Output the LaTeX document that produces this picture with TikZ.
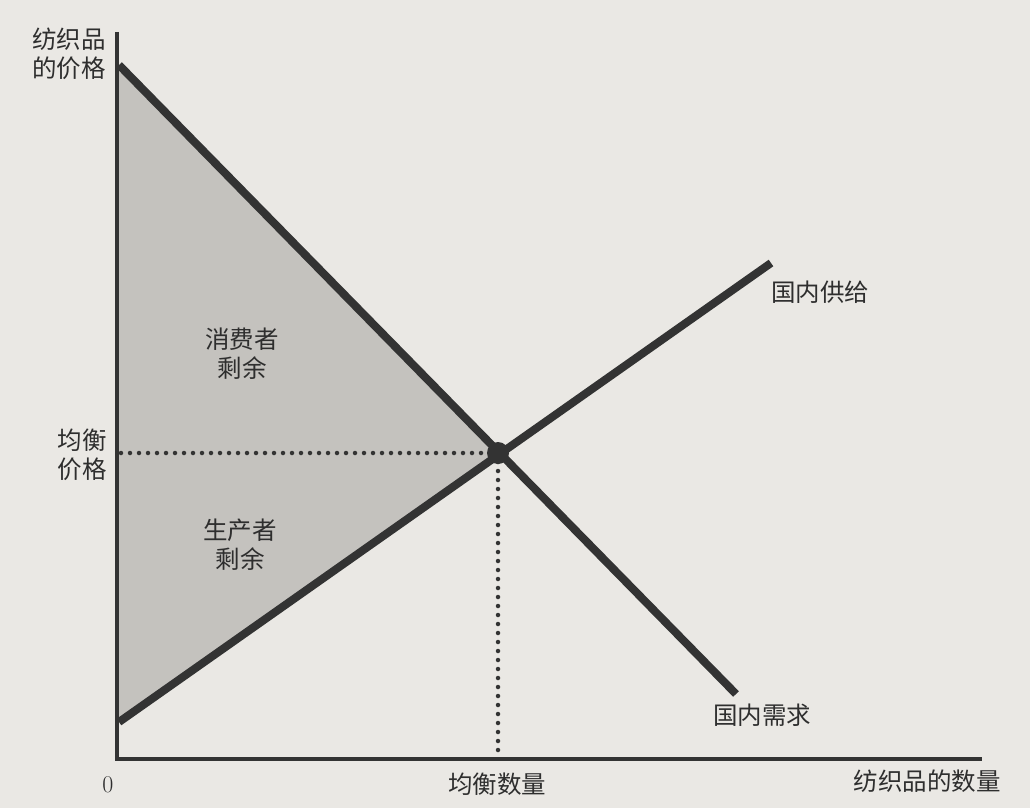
\documentclass[tikz,border=0pt]{standalone}
\usepackage{fontspec}
\newfontfamily\cjk{Noto Sans CJK SC}
\begin{document}
\begin{tikzpicture}[x=1pt,y=-1pt,
  lbl/.style={font=\cjk\fontsize{24.5}{29}\selectfont, text=black!82, align=center, inner sep=0pt},
  axisline/.style={line width=4pt, draw=black!80},
  curve/.style={line width=8pt, draw=black!80},
  guide/.style={line width=4.5pt, draw=black!80, dash pattern=on 0pt off 9pt, line cap=round}]
\definecolor{paper}{RGB}{234,232,228}
\definecolor{surplusgray}{RGB}{196,194,190}
\fill[paper] (0,0) rectangle (1030,808);
\useasboundingbox (0,0) rectangle (1030,808);
% key points
\coordinate (O) at (117,759);
\coordinate (Ytop) at (117,32);
\coordinate (Xend) at (982,759);
\coordinate (Dstart) at (119,65);
\coordinate (Dend) at (736,694);
\coordinate (Sstart) at (119,722);
\coordinate (Send) at (771,263);
\coordinate (E) at (498,453);
\coordinate (Py) at (121,453);
\coordinate (Qx) at (498,755);
% shaded surplus
\fill[surplusgray] (Dstart) -- (E) -- (Sstart) -- cycle;
% guides
\draw[guide] (Py) -- (E);
\draw[guide] (E) -- (Qx);
% axes
\draw[axisline] (Ytop) -- (O) -- (Xend);
% curves
\draw[curve] (Dstart) -- (Dend);
\draw[curve] (Sstart) -- (Send);
\node[circle, fill=black!80, minimum size=22pt, inner sep=0pt] (eq) at (E) {};
% labels
\node[lbl] (ylab) at (69,54) {纺织品\\的价格};
\node[lbl] (cs) at (242,354) {消费者\\剩余};
\node[lbl] (pe) at (82,455) {均衡\\价格};
\node[lbl] (ps) at (240,545) {生产者\\剩余};
\node[lbl] (sup) at (820,292) {国内供给};
\node[lbl] (dem) at (762,715) {国内需求};
\node[lbl, font=\fontsize{24}{28}\selectfont] (zero) at (108,785) {0};
\node[lbl] (qe) at (497,784) {均衡数量};
\node[lbl] (xlab) at (927,781) {纺织品的数量};
\end{tikzpicture}
\end{document}
